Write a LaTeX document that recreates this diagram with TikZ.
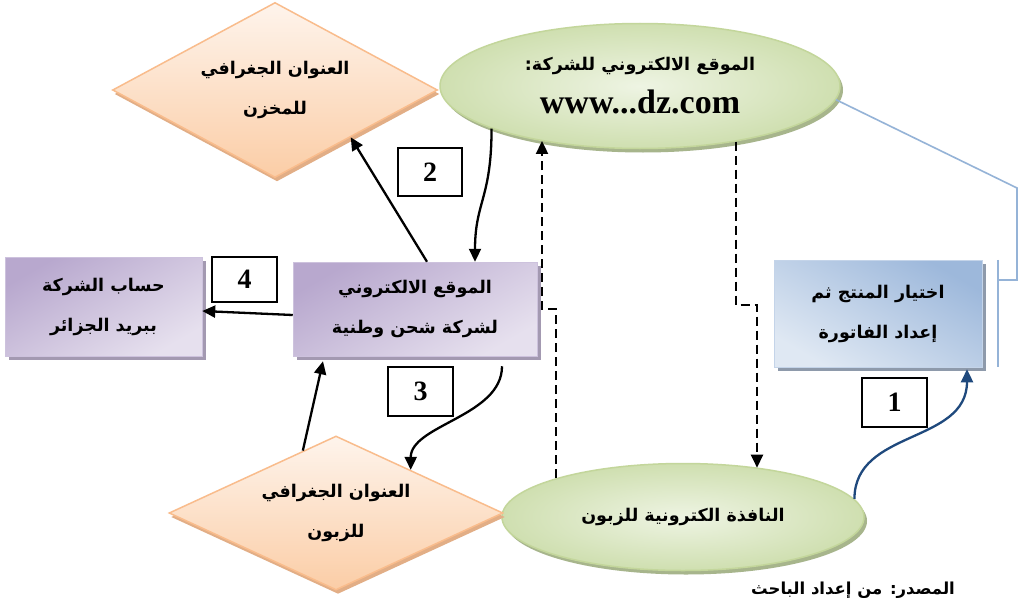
\documentclass[tikz,border=0pt]{standalone}
\usepackage{fontspec}
\setmainfont{Liberation Serif}
\newfontfamily\arabicfont[Script=Arabic]{DejaVu Sans}
\TeXXeTstate=1
\usetikzlibrary{shapes.geometric,shadows,arrows.meta}

\definecolor{peachline}{HTML}{F9BC8C}
\definecolor{peachtop}{HTML}{FEF4EC}
\definecolor{peachbot}{HTML}{FBCDA6}
\definecolor{peachshadow}{HTML}{E2AE86}
\definecolor{greenline}{HTML}{C3D69B}
\definecolor{greenin}{HTML}{EEF4E3}
\definecolor{greenout}{HTML}{CFDFB0}
\definecolor{greenshadow}{HTML}{A7B58C}
\definecolor{purpletop}{HTML}{B8A8CE}
\definecolor{purplebot}{HTML}{E6E0EE}
\definecolor{purpleshadow}{HTML}{A399B1}
\definecolor{bluetop}{HTML}{9DB8DB}
\definecolor{bluebot}{HTML}{DFE8F3}
\definecolor{blueshadow}{HTML}{8E9AAB}
\definecolor{bracketblue}{HTML}{95B3D7}
\definecolor{darkblue}{HTML}{1F497D}

\begin{document}
\begin{tikzpicture}[x=1pt,y=-1pt,
  every node/.style={inner sep=0pt},
  artext/.style={font=\arabicfont\bfseries\fontsize{17.5}{40}\selectfont, align=center},
  diam/.style={diamond, aspect=1.9, artext, draw=peachline, line width=1.5pt,
    top color=peachtop, bottom color=peachbot,
    drop shadow={shadow xshift=2pt, shadow yshift=-4pt, fill=peachshadow, opacity=1}},
  oval/.style={ellipse, artext, draw=greenline, line width=1.5pt,
    inner color=greenin, outer color=greenout,
    drop shadow={shadow xshift=3pt, shadow yshift=-4pt, fill=greenshadow, opacity=1}},
  pbox/.style={rectangle, artext, draw=purpletop!70, line width=0.5pt,
    top color=purpletop, bottom color=purplebot, shading angle=30,
    drop shadow={shadow xshift=4pt, shadow yshift=-4pt, fill=purpleshadow, opacity=1}},
  bbox/.style={rectangle, artext, draw=bluetop!60, line width=0.5pt,
    top color=bluetop, bottom color=bluebot, shading angle=-30,
    drop shadow={shadow xshift=4pt, shadow yshift=-4pt, fill=blueshadow, opacity=1}},
  numbox/.style={rectangle, draw=black, line width=1.4pt, fill=white,
    font=\bfseries\fontsize{28}{28}\selectfont},
  arr/.style={-{Triangle[length=13pt,width=12pt]}, line width=2.3pt, black},
  dasharr/.style={arr, dash pattern=on 9pt off 5pt},
  bluearr/.style={arr, draw=darkblue, -{Triangle[length=13pt,width=12pt,fill=darkblue]}},
  bracket/.style={draw=bracketblue, line width=1.6pt}
]
\useasboundingbox (0,0) rectangle (1019,602);
\clip (0,0) rectangle (1019,602);
\fill[white] (0,0) rectangle (1019,602);

% shapes of the flow
\node[diam, minimum width=325pt, minimum height=175pt] (store) at (275,90)
  {\beginR العنوان الجغرافي\endR\\\beginR للمخزن\endR};
\node[oval, minimum width=400pt, minimum height=125pt] (site) at (640,86)
  {\beginR الموقع الالكتروني للشركة:\endR\\[3pt]
   {\rmfamily\bfseries\fontsize{34}{34}\selectfont www...dz.com}};
\node[pbox, minimum width=244pt, minimum height=94pt] (shipper) at (415,309)
  {\beginR الموقع الالكتروني\endR\\\beginR لشركة شحن وطنية\endR};
\node[pbox, minimum width=197pt, minimum height=99pt] (bank) at (103.5,306.5)
  {\beginR حساب الشركة\endR\\\beginR ببريد الجزائر\endR};
\node[bbox, minimum width=208pt, minimum height=107pt] (prod) at (878,313.5)
  {\beginR اختيار المنتج ثم\endR\\\beginR إعداد الفاتورة\endR};
\node[oval, minimum width=362pt, minimum height=107pt] (client) at (683,517)
  {\beginR النافذة الكترونية للزبون\endR};
\node[diam, minimum width=334pt, minimum height=154pt] (cust) at (336,513)
  {\beginR العنوان الجغرافي\endR\\\beginR للزبون\endR};

% step numbers
\node[numbox, minimum width=65pt, minimum height=49pt] (n1) at (894.5,402.5) {1};
\node[numbox, minimum width=64pt, minimum height=48pt] (n2) at (430,172) {2};
\node[numbox, minimum width=65pt, minimum height=49pt] (n3) at (420.5,391.5) {3};
\node[numbox, minimum width=65pt, minimum height=45pt] (n4) at (244.5,279.5) {4};

% bend points
\coordinate (upbend) at (542,309);
\coordinate (downbend) at (757,305);
\coordinate (brkout) at (1017,188);
\coordinate (brktick) at (998,280);

% bracket tying the product step to the site
\draw[bracket] (site.-4) -- (brkout) |- (brktick);
\draw[bracket] ([xshift=16pt]prod.north east) -- ([xshift=16pt]prod.south east);

% connectors
\draw[arr] ([xshift=12pt]shipper.north) -- (store.-32);
\draw[arr] (site.196) .. controls +(0,70) and +(0,-60) .. ([xshift=60pt]shipper.north);
\draw[arr] ([yshift=-6pt]shipper.west) -- ([yshift=-4.5pt]bank.east);
\draw[arr] (cust.118) -- ([xshift=-92pt,yshift=-5pt]shipper.south);
\draw[arr] ([xshift=87pt,yshift=-10pt]shipper.south) .. controls +(0,50) and +(0,-45) .. (cust.30);
\draw[dasharr] (client.163) |- (upbend) -- (upbend |- site.209);
\draw[dasharr] (site.-30) |- (downbend) -- (downbend |- client.33);
\draw[bluearr] (client.6) .. controls +(0,-70) and +(0,75) .. ([xshift=89pt,yshift=-2pt]prod.south);

% source line below the figure
\node[font=\arabicfont\bfseries\fontsize{16.5}{16.5}\selectfont, anchor=base] (src) at (853,594)
  {\beginR المصدر: من إعداد الباحث\endR};
\end{tikzpicture}
\end{document}
